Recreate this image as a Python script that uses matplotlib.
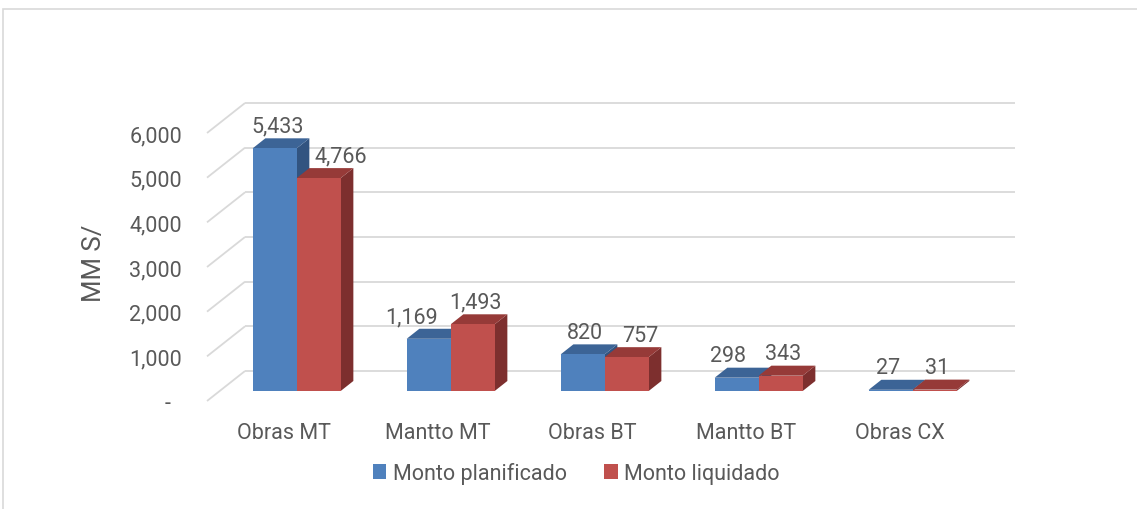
import matplotlib.pyplot as plt
from matplotlib.patches import Patch, Polygon, Rectangle

# --- data -------------------------------------------------------------------
categories = ["Obras MT", "Mantto MT", "Obras BT", "Mantto BT", "Obras CX"]
planificado = [5433, 1169, 820, 298, 27]
liquidado = [4766, 1493, 757, 343, 31]
series_names = ["Monto planificado", "Monto liquidado"]
y_ticks = [0, 1000, 2000, 3000, 4000, 5000, 6000]

# --- style ------------------------------------------------------------------
FONT = "Roboto"
FS = 15.5
INK = "#595959"
GRID = "#D9D9D9"
FACES = [  # front, top, side
    ("#4F81BD", "#3C6496", "#325480"),
    ("#C0504D", "#963A38", "#7D2F2E"),
]
DX, DY = 0.247, 672          # floor depth (x in category units, y in value units)
BAR_W = 1 / 3.5              # gap width 150 %
D0, D1 = 1 / 3, 2 / 3        # bars sit in the middle third of the depth


def proj(x, y, d):
    return (x + d * DX, y + d * DY)


def draw_box(ax, x0, v, colors, z):
    front, top, side = colors
    side_pts = [proj(x0 + BAR_W, 0, D0), proj(x0 + BAR_W, v, D0),
                proj(x0 + BAR_W, v, D1), proj(x0 + BAR_W, 0, D1)]
    top_pts = [proj(x0, v, D0), proj(x0 + BAR_W, v, D0),
               proj(x0 + BAR_W, v, D1), proj(x0, v, D1)]
    ax.add_patch(Polygon(side_pts, closed=True, facecolor=side, edgecolor="none",
                         zorder=z, clip_on=False))
    ax.add_patch(Polygon(top_pts, closed=True, facecolor=top, edgecolor="none",
                         zorder=z + 0.01, clip_on=False))
    ax.bar(x0 + D0 * DX, v, width=BAR_W, bottom=D0 * DY, align="edge",
           color=front, linewidth=0, zorder=z + 0.02, clip_on=False)


def main() -> None:
    plt.rcParams["font.family"] = [FONT, "DejaVu Sans"]
    fig = plt.figure(figsize=(11.37, 5.10), dpi=100)
    W, H = 1137, 510
    ax = fig.add_axes([207 / W, (H - 402) / H, 770 / W, 268 / H])
    ax.set_xlim(-0.5, 4.5)
    ax.set_ylim(0, 6000)
    for s in ax.spines.values():
        s.set_visible(False)

    # back wall gridlines + side-wall diagonals
    for v in y_ticks:
        ax.plot([-0.5, -0.5 + DX], [v, v + DY], color=GRID, lw=1.3,
                zorder=1, clip_on=False, solid_capstyle="butt")
        ax.plot([-0.5 + DX, 4.5 + DX], [v + DY, v + DY], color=GRID, lw=1.3,
                zorder=1, clip_on=False, solid_capstyle="butt")

    # bars + data labels
    for i in range(len(categories)):
        vals = [planificado[i], liquidado[i]]
        for k, v in enumerate(vals):
            x0 = i - BAR_W + k * BAR_W
            draw_box(ax, x0, v, FACES[k], 3 + i * 0.2 + k * 0.1)
            other = vals[1 - k]
            y_lab = v + D1 * DY
            if k == 0 and other > v:
                x_lab, ha = x0 + BAR_W, "right"
            elif k == 1 and other > v:
                x_lab, ha = x0 + 0.8 * DX, "left"
            else:
                x_lab, ha = x0 + BAR_W / 2 + 0.5 * DX - 0.025, "center"
            ax.annotate(f"{v:,}", (x_lab, y_lab), xytext=(0, 1),
                        textcoords="offset points", ha=ha, va="bottom",
                        fontsize=FS, color=INK, zorder=10, annotation_clip=False)

    ax.set_xticks(range(len(categories)))
    ax.set_xticklabels(categories)
    ax.set_yticks(y_ticks)
    ax.set_yticklabels([f"{v:,}" if v else "-  " for v in y_ticks])
    ax.tick_params(axis="x", length=0, pad=15, labelsize=FS, labelcolor=INK)
    ax.tick_params(axis="y", length=0, pad=18, labelsize=FS, labelcolor=INK)

    fig.text(94 / W, 1 - 263 / H, "MM S/", rotation=90, ha="center",
             va="center", fontsize=18.5, color=INK)

    handles = [Patch(facecolor=FACES[k][0], edgecolor="none")
               for k in range(len(series_names))]
    fig.legend(handles, series_names, loc="center", ncol=2, frameon=False,
               bbox_to_anchor=(576 / W, 1 - 474 / H), fontsize=FS,
               labelcolor=INK, handlelength=0.65, handleheight=0.65,
               handletextpad=0.3, columnspacing=1.7)

    # chart area border (cut off at right and bottom)
    fig.add_artist(Rectangle((3 / W, -0.2), 1.5, 1.2 - 10 / H,
                             transform=fig.transFigure, fill=False,
                             edgecolor=GRID, lw=1.2))

    fig.savefig("out.png", dpi=100)
    plt.close(fig)


if __name__ == "__main__":
    main()
